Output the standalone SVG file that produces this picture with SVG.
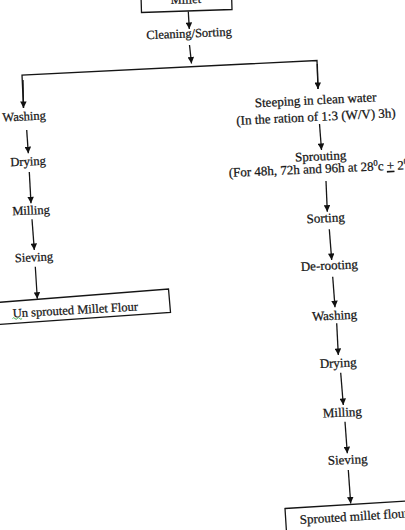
<svg xmlns="http://www.w3.org/2000/svg" width="405" height="530" viewBox="0 0 405 530">
<defs>
<marker id="ah" viewBox="0 0 10 10" refX="10" refY="5" markerWidth="7" markerHeight="6.5" markerUnits="userSpaceOnUse" orient="auto">
<path d="M0,0 L10,5 L0,10 z" fill="#111"/>
</marker>
<style>
.t{font-family:"Liberation Serif","Times New Roman",serif;fill:#151515;stroke:#151515;stroke-width:0.25;text-anchor:middle}
.l{font-size:12.5px}
.r{font-size:13px}
.b{fill:#fff;stroke:#151515;stroke-width:1.3}
.c{fill:none;stroke:#151515;stroke-width:1.3}
.a{marker-end:url(#ah)}
</style>
</defs>
<rect width="405" height="530" fill="#fff"/>
<g id="connectors">
<line class="c a" x1="188.3" y1="11.5" x2="189.3" y2="29"/>
<line class="c a" x1="189.5" y1="45" x2="191.5" y2="63.5"/>
<polyline class="c" points="23.5,108 22,75 317,60.5 318,89"/>
<line class="c a" x1="23" y1="80" x2="23.5" y2="108"/>
<line class="c a" x1="317.3" y1="64" x2="318" y2="89"/>
<line class="c a" x1="26.7" y1="130" x2="28.3" y2="153.3"/>
<line class="c a" x1="29.3" y1="172" x2="31" y2="203.3"/>
<line class="c a" x1="32" y1="219.3" x2="34.3" y2="250"/>
<line class="c a" x1="35.3" y1="266.7" x2="37.3" y2="298.8"/>
<line class="c a" x1="319.5" y1="124" x2="321.5" y2="150"/>
<line class="c a" x1="326" y1="181" x2="327.3" y2="211.7"/>
<line class="c a" x1="329.3" y1="229.3" x2="331.7" y2="260"/>
<line class="c a" x1="332.7" y1="276.7" x2="335" y2="307.3"/>
<line class="c a" x1="336.7" y1="323.3" x2="338.3" y2="355"/>
<line class="c a" x1="340.7" y1="372.7" x2="343.3" y2="405"/>
<line class="c a" x1="345" y1="421.7" x2="347.3" y2="453.3"/>
<line class="c a" x1="348.3" y1="470" x2="350.7" y2="503.5"/>
</g>
<g id="millet">
<polygon class="b" points="140.5,-22 141.5,12.5 232,9.5 231,-25"/>
<text class="t l" x="186" y="3.5" transform="rotate(-2 186 3.5)">Millet</text>
</g>
<g id="cleaning">
<text class="t l" x="189.3" y="37.5" transform="rotate(-2.5 189.3 37.5)">Cleaning/Sorting</text>
</g>
<g id="washing-l">
<text class="t l" x="24.3" y="120.5" transform="rotate(-2.5 24.3 120.5)">Washing</text>
</g>
<g id="drying-l">
<text class="t l" x="28.3" y="165.5" transform="rotate(-2.5 28.3 165.5)">Drying</text>
</g>
<g id="milling-l">
<text class="t l" x="31.2" y="214.5" transform="rotate(-2.5 31.2 214.5)">Milling</text>
</g>
<g id="sieving-l">
<text class="t l" x="34.2" y="261.3" transform="rotate(-2.5 34.2 261.3)">Sieving</text>
</g>
<g id="unsprouted-flour">
<polygon class="b" points="-3,302.5 168.5,289 170.5,312.5 -3,324.5"/>
<text class="t l" x="75.5" y="314" transform="rotate(-3.2 75.5 314)">Un sprouted Millet Flour</text>
<path d="M12.5,318.5 q1.2,-1.6 2.4,0 t2.4,0 t2.4,0 t2.4,0" fill="none" stroke="#3aa845" stroke-width="0.9"/>
</g>
<g id="steeping">
<text class="t r" x="315.8" y="104.3" transform="rotate(-2.8 315.8 104.3)">Steeping in clean water</text>
<text class="t r" x="316.2" y="121" transform="rotate(-2.8 316.2 121)">(In the ration of 1:3 (W/V) 3h)</text>
</g>
<g id="sprouting">
<text class="t r" x="320.8" y="160.5" transform="rotate(-2.5 320.8 160.5)">Sprouting</text>
<text class="t r" x="229" y="177" style="text-anchor:start" transform="rotate(-2.5 229 177)">(For 48h, 72h and 96h at 28<tspan font-size="8.5" dy="-5">0</tspan><tspan dy="5">c </tspan><tspan text-decoration="underline">+</tspan> 2<tspan font-size="8.5" dy="-5">0</tspan></text>
</g>
<g id="sorting">
<text class="t r" x="325.8" y="222.3" transform="rotate(-2.5 325.8 222.3)">Sorting</text>
</g>
<g id="derooting">
<text class="t r" x="329.5" y="269.7" transform="rotate(-2.5 329.5 269.7)">De-rooting</text>
</g>
<g id="washing-r">
<text class="t r" x="334.7" y="319.7" transform="rotate(-2.5 334.7 319.7)">Washing</text>
</g>
<g id="drying-r">
<text class="t r" x="338.3" y="367.3" transform="rotate(-2.5 338.3 367.3)">Drying</text>
</g>
<g id="milling-r">
<text class="t r" x="342.5" y="416.7" transform="rotate(-2.5 342.5 416.7)">Milling</text>
</g>
<g id="sieving-r">
<text class="t r" x="347.8" y="464" transform="rotate(-2.5 347.8 464)">Sieving</text>
</g>
<g id="sprouted-flour">
<polygon class="b" points="285,508.5 408,501 410,540 287,540"/>
<text class="t r" x="300" y="524" style="text-anchor:start" transform="rotate(-3.5 300 524)">Sprouted millet flour</text>
</g>
</svg>
